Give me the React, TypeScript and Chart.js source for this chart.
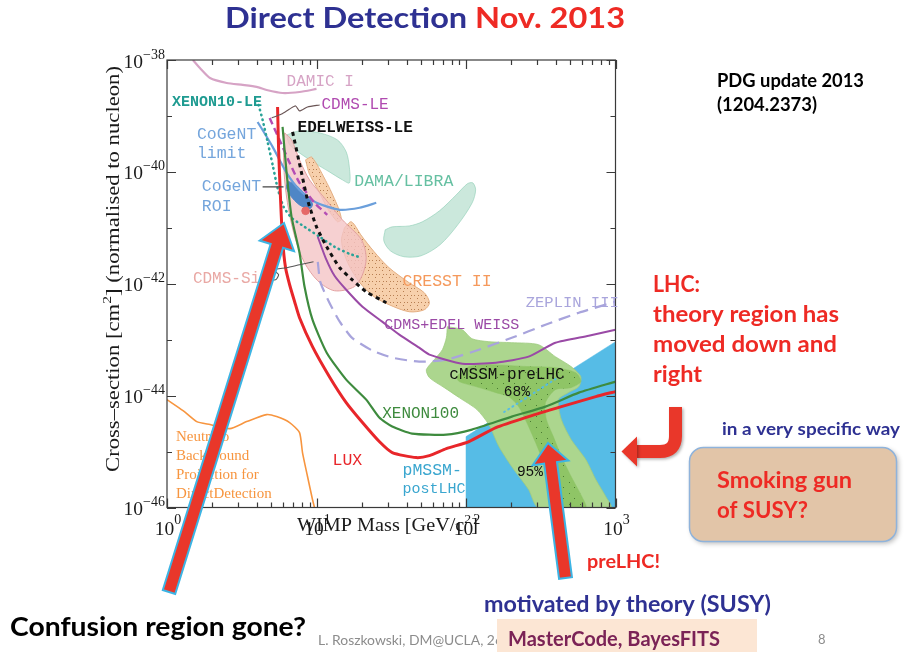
import React, { useEffect, useRef } from 'react';
import { Chart, registerables } from 'chart.js';

Chart.register(...registerables);

type Pt = [number, number]; // [WIMP mass (GeV), cross-section (cm^2)]

// ---------- axes ----------
const massMin = 1;
const massMax = 1000;
const sigmaMin = 1e-46;
const sigmaMax = 1e-38;
const massDecades = [1, 10, 100, 1000];
const massMinorSteps = [2, 3, 4, 5, 6, 7, 8, 9];
const sigmaExponents = [-46, -45, -44, -43, -42, -41, -40, -39, -38];
const sigmaLabelExponents = [-46, -44, -42, -40, -38];

// ---------- limit curves ----------
const damicI: Pt[] = [[1.49, 1e-38], [1.66, 7.2e-39], [1.94, 4.77e-39], [2.51, 3.88e-39], [3.21, 3.58e-39], [3.98, 3.3e-39], [4.64, 2.91e-39], [5.93, 2.57e-39], [7.7, 2.68e-39], [10, 3.04e-39]];
const xenon10LE: Pt[] = [[4.1, 1.57e-39], [4.36, 8.48e-40], [4.71, 3.43e-40], [5.09, 1.33e-40], [5.49, 5.18e-41], [6.02, 2.37e-41], [6.81, 1.51e-41], [7.94, 1.13e-41], [10.5, 6.9e-42], [13.2, 4.58e-42], [16.6, 3.43e-42], [20, 2.91e-42]];
const cdmsLE: Pt[] = [[4.86, 9.21e-40], [5.66, 3.73e-40], [6.61, 1.45e-40], [7.7, 6.36e-41], [9.69, 2.8e-41], [11.8, 1.71e-41]];
const edelweissLE: Pt[] = [[6.92, 5.18e-40], [7.94, 9.6e-41], [8.71, 3.16e-41], [10, 1.04e-41], [11.7, 4.58e-42], [14.3, 1.93e-42], [17.3, 1.18e-42], [21.5, 7.2e-43], [29.3, 4.58e-43]];
const cogentLimit: Pt[] = [[4.04, 7.81e-40], [5.09, 2.8e-40], [6.31, 9.6e-41], [7.7, 4.77e-41], [10, 2.8e-41], [14.3, 2.1e-41], [19.4, 2.28e-41], [25.1, 2.8e-41]];
const lux: Pt[] = [[5.49, 1.45e-39], [5.58, 2.47e-40], [5.75, 3.16e-41], [5.93, 6.11e-42], [6.21, 1.93e-42], [6.61, 9.6e-43], [7.14, 4.77e-43], [7.7, 2.47e-43], [9.4, 7.5e-44], [12.2, 2.18e-44], [15.8, 7.5e-45], [20.3, 3.3e-45], [26.3, 1.51e-45], [32.1, 9.6e-46], [46.4, 7.81e-46], [56.9, 8.48e-46], [73.9, 1.13e-45], [104.7, 1.51e-45], [158.5, 2.68e-45], [262, 4.22e-45], [434.5, 6.36e-45], [738, 9.6e-45], [1000, 1.18e-44]];
const xenon100: Pt[] = [[5.93, 6.36e-40], [6.31, 9.6e-41], [6.81, 1.57e-41], [7.7, 3.58e-42], [8.32, 8.84e-43], [9.4, 2.28e-43], [11.7, 5.86e-44], [15.8, 1.93e-44], [21.5, 8.48e-45], [26.3, 4.05e-45], [32.1, 2.8e-45], [43.6, 2.1e-45], [73.9, 2.01e-45], [109.6, 2.47e-45], [202.4, 4.22e-45], [339.8, 6.36e-45], [568.8, 1.13e-44], [1000, 1.78e-44]];
const cdmsEdelweiss: Pt[] = [[10.2, 6.9e-42], [11.5, 2.91e-42], [13.2, 1.39e-42], [15.8, 7.81e-43], [20.3, 3.88e-43], [27.5, 2.1e-43], [35.8, 1.23e-43], [48.6, 7.2e-44], [56.9, 5.4e-44], [94.4, 3.73e-44], [158.5, 3.88e-44], [262, 4.97e-44], [396, 8.84e-44], [662, 1.18e-43], [1000, 1.51e-43]];
const zeplinIII: Pt[] = [[10.2, 2.47e-42], [10.6, 1.08e-42], [12.2, 4.58e-43], [14.3, 2.1e-43], [17.3, 1.08e-43], [23.7, 6.36e-44], [32.1, 4.77e-44], [48.6, 4.05e-44], [73.9, 4.39e-44], [122, 6.63e-44], [202.4, 1.08e-43], [339.8, 1.85e-43], [568.8, 3.04e-43], [1000, 4.77e-43]];
const neutrinoBackground: Pt[] = [[1, 8.48e-45], [1.28, 5.4e-45], [1.58, 3.43e-45], [1.94, 3.04e-45], [2.63, 2.57e-45], [3.41, 3.43e-45], [4.64, 4.58e-45], [5.41, 4.22e-45], [6.61, 3.3e-45], [7.7, 2.18e-45], [8.06, 9.6e-46], [8.71, 3.58e-46], [9.4, 1.39e-46], [9.69, 1e-46]];

// ---------- signal / allowed regions ----------
const cogentROI: Pt[] = [[6.41, 6.9e-41], [7.25, 5.86e-41], [8.32, 4.05e-41], [9.4, 2.68e-41], [8.98, 2.18e-41], [7.7, 2.57e-41], [6.71, 3.73e-41], [6.31, 5.18e-41]];
const cdmsSiBestFit: Pt[] = [[8.45, 2.01e-41]];
const cdmsSiRegion: Pt[] = [[6.12, 4.97e-40], [6.81, 3.73e-40], [7.7, 1.64e-40], [8.98, 7.2e-41], [11.3, 3.43e-41], [14.9, 1.39e-41], [20, 6.11e-42], [21.5, 2.91e-42], [20.3, 1.45e-42], [17.9, 8.84e-43], [13.2, 7.5e-43], [10.2, 1.13e-42], [8.32, 2.37e-42], [7.25, 6.11e-42], [6.51, 2.1e-41], [6.12, 7.2e-41], [6.02, 2.47e-40]];
const damaRegionA: Pt[] = [[6.31, 4.58e-40], [7.7, 5.4e-40], [10.5, 4.97e-40], [13.8, 3.73e-40], [15.8, 2.28e-40], [16.6, 1.18e-40], [16.6, 6.36e-41], [14.9, 7.2e-41], [12.2, 1e-40], [9.69, 1.45e-40], [7.7, 2.18e-40], [6.61, 3.04e-40]];
const damaRegionB: Pt[] = [[28.8, 9.2e-42], [32.1, 1.04e-41], [41.7, 1.08e-41], [51, 1.28e-41], [66.4, 2.01e-41], [86.1, 3.88e-41], [102, 6.11e-41], [111, 6.36e-41], [116, 4.77e-41], [110, 2.8e-41], [88, 1.13e-41], [67, 4.97e-42], [50, 3.16e-42], [38.5, 3.04e-42], [31.2, 3.88e-42], [28.2, 5.86e-42]];
const cresstRegionA: Pt[] = [[8.45, 1.64e-40], [9.26, 1.85e-40], [10.2, 1.28e-40], [12.2, 5.18e-41], [14.1, 2.18e-41], [14.7, 1.39e-41], [13.8, 1.28e-41], [12.1, 2.01e-41], [10.3, 4.58e-41], [8.9, 9.6e-41]];
const cresstRegionB: Pt[] = [[15.4, 1e-41], [17.1, 1.28e-41], [20, 7.2e-42], [24.3, 3.73e-42], [30.6, 1.93e-42], [41.7, 1.04e-42], [52.6, 6.9e-43], [56.9, 4.58e-43], [52.6, 3.43e-43], [41.7, 3.16e-43], [30.6, 4.22e-43], [24.3, 5.86e-43], [20, 9.6e-43], [17.1, 1.78e-42], [15.4, 3.3e-42], [14.7, 6.11e-42]];
const pmssmPostLHC: Pt[] = [[100, 1.85e-45], [1000, 9.21e-44], [1000, 1e-46], [100, 1e-46]];
const pmssmEdgeUnderCmssm: Pt[] = [[180, 5.1e-45], [400, 2.0e-44]];
const cmssm95: Pt[] = [[75, 1.71e-43], [94.4, 1.51e-43], [109.6, 1.04e-43], [142.2, 9.21e-44], [202.4, 8.84e-44], [305.4, 8.14e-44], [396, 4.97e-44], [505, 3.3e-44], [586, 2.18e-44], [569, 1.45e-44], [483, 1.13e-44], [415, 8.48e-45], [434.5, 3.73e-45], [505, 1.64e-45], [632.8, 7.2e-46], [738, 3.16e-46], [861, 1.57e-46], [930, 1e-46], [305, 1e-46], [262, 2.1e-46], [202, 5.4e-46], [166, 1.23e-45], [142, 3.04e-45], [118.4, 5.62e-45], [90.1, 9.21e-45], [71.6, 1.39e-44], [56.9, 2.1e-44], [54.3, 2.91e-44], [61.4, 4.39e-44], [69.5, 6.63e-44], [73.9, 1.08e-43]];
const cmssm68: Pt[] = [[86.1, 2.18e-44], [104.7, 3.3e-44], [142.2, 3.58e-44], [262, 3.3e-44], [396, 3.16e-44], [543, 2.57e-44], [586, 1.78e-44], [505, 1.39e-44], [396, 1.28e-44], [340, 7.5e-45], [345, 3.73e-45], [384, 1.85e-45], [434.5, 8.14e-46], [505, 3.58e-46], [595, 1.57e-46], [633, 1e-46], [434.5, 1e-46], [396, 2.1e-46], [340, 5.4e-46], [292, 1.45e-45], [255, 3.3e-45], [225, 6.36e-45], [193, 9.6e-45], [158.5, 1.13e-44], [116.6, 1.45e-44], [90.1, 1.78e-44]];

// ---------- label leader lines ----------
const cdmsLELeader: Pt[] = [[10.5, 1.57e-39], [8.71, 1.45e-39], [7.7, 1.23e-39], [7.25, 1.51e-39], [6.61, 1.33e-39], [5.84, 1.08e-39], [5.01, 9.21e-40]];
const cogentROILeader: Pt[] = [[4.36, 5.4e-41], [6.02, 5.4e-41]];
const cdmsSiLeader: Pt[] = [[4.3, 1.18e-42], [5.33, 1.18e-42], [5.58, 1.45e-42], [5.17, 1.78e-42], [6.31, 1.93e-42], [7.7, 2.18e-42], [9.55, 2.47e-42]];

// ---------- in-plot labels (text, mass, cross-section) ----------
const plotLabelTexts = ['DAMIC I', 'XENON10-LE', 'CDMS-LE', 'EDELWEISS-LE', 'CoGeNT', 'limit', 'CoGeNT', 'ROI', 'DAMA/LIBRA', 'CRESST II', 'CDMS-Si', 'ZEPLIN III', 'CDMS+EDEL WEISS', 'cMSSM-preLHC', '68%', 'XENON100', 'LUX', 'pMSSM-', 'postLHC', '95%'];
const plotLabelMass = [6.31, 1.08, 10.8, 7.47, 1.585, 1.585, 1.71, 1.71, 17.9, 37.6, 1.49, 251, 28.4, 77.4, 179, 27.5, 12.8, 37.6, 37.6, 219];
const plotLabelSigma = [4.05e-39, 1.78e-39, 1.57e-39, 6.11e-40, 4.58e-40, 2.1e-40, 5.4e-41, 2.37e-41, 6.63e-41, 1.08e-42, 1.23e-42, 4.58e-43, 1.85e-43, 2.37e-44, 1.13e-44, 4.77e-45, 6.9e-46, 4.58e-46, 2.18e-46, 4.22e-46];
const neutrinoLabelLines = ['Neutrino', 'Background', 'Projection for', 'DirectDetection'];
const neutrinoLabelMass = 1.148;
const neutrinoLabelSigma = [1.78e-45, 8.14e-46, 3.73e-46, 1.71e-46];

// styles for labels (parallel to plotLabelTexts)
const labelStyle: { c: string; s: number; b?: boolean }[] = [
  { c: '#d6a3c5', s: 16 }, { c: '#1f9b91', s: 15, b: true }, { c: '#b04ab0', s: 16 }, { c: '#111111', s: 16, b: true },
  { c: '#74a5dc', s: 16.5 }, { c: '#74a5dc', s: 16.5 }, { c: '#74a5dc', s: 16.5 }, { c: '#74a5dc', s: 16.5 },
  { c: '#66c0a2', s: 16.5 }, { c: '#f5995c', s: 16.5 }, { c: '#e9a8a4', s: 16 }, { c: '#a9a5dc', s: 15.5 },
  { c: '#9b4aa6', s: 15 }, { c: '#111111', s: 16 }, { c: '#111111', s: 14.5 }, { c: '#3e8b3e', s: 16 },
  { c: '#e8262a', s: 16.5 }, { c: '#3aa6cf', s: 16.5 }, { c: '#3aa6cf', s: 15 }, { c: '#111111', s: 14.5 },
];

type Run = { t: string; sup?: boolean; color?: string };

function drawRuns(
  ctx: CanvasRenderingContext2D,
  runs: Run[],
  x: number,
  y: number,
  font: (sup: boolean) => string,
  color: string,
  opt: { align?: 'left' | 'center' | 'right'; width?: number; rise?: number } = {}
) {
  ctx.save();
  ctx.textBaseline = 'alphabetic';
  ctx.textAlign = 'left';
  const widths = runs.map((r) => {
    ctx.font = font(!!r.sup);
    return ctx.measureText(r.t).width;
  });
  const total = widths.reduce((s, w) => s + w, 0);
  const sx = opt.width ? opt.width / total : 1;
  const tw = total * sx;
  let x0 = x;
  if (opt.align === 'center') x0 = x - tw / 2;
  else if (opt.align === 'right') x0 = x - tw;
  ctx.translate(x0, y);
  ctx.scale(sx, 1);
  let cx = 0;
  runs.forEach((r, i) => {
    ctx.font = font(!!r.sup);
    ctx.fillStyle = r.color || color;
    ctx.fillText(r.t, cx, r.sup ? -(opt.rise ?? 10) : 0);
    cx += widths[i];
  });
  ctx.restore();
}

function blockArrow(ctx: CanvasRenderingContext2D, x0: number, y0: number, x1: number, y1: number, half: number, headLen: number, headHalf: number) {
  const dx = x1 - x0, dy = y1 - y0, L = Math.hypot(dx, dy);
  const ux = dx / L, uy = dy / L, nx = -uy, ny = ux;
  const bx = x1 - ux * headLen, by = y1 - uy * headLen;
  ctx.beginPath();
  ctx.moveTo(x0 + nx * half, y0 + ny * half);
  ctx.lineTo(bx + nx * half, by + ny * half);
  ctx.lineTo(bx + nx * headHalf, by + ny * headHalf);
  ctx.lineTo(x1, y1);
  ctx.lineTo(bx - nx * headHalf, by - ny * headHalf);
  ctx.lineTo(bx - nx * half, by - ny * half);
  ctx.lineTo(x0 - nx * half, y0 - ny * half);
  ctx.closePath();
  ctx.fillStyle = '#e9372a';
  ctx.fill();
  ctx.lineWidth = 2;
  ctx.strokeStyle = '#3cb4e4';
  ctx.lineJoin = 'miter';
  ctx.stroke();
}

const SLIDE = '"Lato", "Open Sans", sans-serif';
const SERIF = '"Liberation Serif", "DejaVu Serif", serif';
const MONO = '"Liberation Mono", "DejaVu Sans Mono", monospace';

const overlayPlugin = {
  id: 'overlay',
  afterDatasetsDraw(chart: any) {
    const ctx: CanvasRenderingContext2D = chart.ctx;
    const xs = chart.scales.x;
    const ys = chart.scales.y;
    const a = chart.chartArea;
    ctx.save();
    // frame
    ctx.strokeStyle = '#3a3a3a';
    ctx.lineWidth = 1.2;
    ctx.strokeRect(a.left, a.top, a.right - a.left, a.bottom - a.top);
    ctx.beginPath();
    for (const d of massDecades) {
      const ticks: [number, number][] = [[d, 9]];
      if (d < massMax) for (const m of massMinorSteps) ticks.push([d * m, 5]);
      for (const [v, len] of ticks) {
        const px = Math.round(xs.getPixelForValue(v)) + 0.5;
        ctx.moveTo(px, a.bottom); ctx.lineTo(px, a.bottom - len);
        ctx.moveTo(px, a.top); ctx.lineTo(px, a.top + len);
      }
    }
    for (const e of sigmaExponents) {
      const py = Math.round(ys.getPixelForValue(Math.pow(10, e))) + 0.5;
      const len = e % 2 === 0 ? 9 : 5;
      ctx.moveTo(a.left, py); ctx.lineTo(a.left + len, py);
      ctx.moveTo(a.right, py); ctx.lineTo(a.right - len, py);
    }
    ctx.stroke();

    const tickFont = (sup: boolean) => `${sup ? 14 : 19.5}px ${SERIF}`;
    for (const d of massDecades) {
      const ex = Math.round(Math.log10(d));
      drawRuns(ctx, [{ t: '10' }, { t: String(ex), sup: true }], xs.getPixelForValue(d) + 1, 535, tickFont, '#1a1a1a', { align: 'center', rise: 11 });
    }
    for (const e of sigmaLabelExponents) {
      const py = ys.getPixelForValue(Math.pow(10, e));
      drawRuns(ctx, [{ t: '10' }, { t: '\u2212' + String(-e), sup: true }], a.left - 2, py + 7.5, tickFont, '#1a1a1a', { align: 'right', rise: 9 });
    }
    // axis titles
    const titleFont = (sup: boolean) => `${sup ? 13 : 19}px ${SERIF}`;
    drawRuns(ctx, [{ t: 'WIMP Mass [GeV/c' }, { t: '2', sup: true }, { t: ']' }], 297, 531, titleFont, '#1a1a1a', { width: 181, rise: 8 });
    ctx.save();
    ctx.translate(119, 269);
    ctx.rotate(-Math.PI / 2);
    drawRuns(ctx, [{ t: 'Cross\u2013section [cm' }, { t: '2', sup: true }, { t: '] (normalised to nucleon)' }], 0, 0, titleFont, '#1a1a1a', { align: 'center', width: 406, rise: 8 });
    ctx.restore();

    // in-plot labels
    ctx.textBaseline = 'middle';
    ctx.textAlign = 'left';
    plotLabelTexts.forEach((t, i) => {
      const st = labelStyle[i];
      ctx.font = `${st.b ? 'bold ' : ''}${st.s}px ${MONO}`;
      ctx.fillStyle = st.c;
      ctx.fillText(t, xs.getPixelForValue(plotLabelMass[i]), ys.getPixelForValue(plotLabelSigma[i]));
    });
    ctx.font = `15px ${SERIF}`;
    ctx.fillStyle = '#f7953f';
    neutrinoLabelLines.forEach((t, i) => {
      ctx.fillText(t, xs.getPixelForValue(neutrinoLabelMass), ys.getPixelForValue(neutrinoLabelSigma[i]));
    });
    ctx.restore();
  },
  afterDraw(chart: any) {
    const ctx: CanvasRenderingContext2D = chart.ctx;
    ctx.save();
    const bold = (size: number) => () => `bold ${size}px ${SLIDE}`;
    const NAVY = '#2e3192';
    const RED = '#ee2a24';

    // title
    drawRuns(ctx, [{ t: 'Direct Detection ', color: NAVY }, { t: 'Nov. 2013', color: RED }], 225, 28, bold(29), NAVY, { width: 400 });
    // right-side notes
    drawRuns(ctx, [{ t: 'PDG update 2013' }], 717, 87, bold(18.5), '#000', { width: 147 });
    drawRuns(ctx, [{ t: '(1204.2373)' }], 717, 110.5, bold(18.5), '#000', { width: 100 });
    drawRuns(ctx, [{ t: 'LHC:' }], 653, 292, bold(22), RED, { width: 47 });
    drawRuns(ctx, [{ t: 'theory region has' }], 653, 322, bold(22), RED, { width: 186 });
    drawRuns(ctx, [{ t: 'moved down and' }], 653, 352, bold(22), RED, { width: 184 });
    drawRuns(ctx, [{ t: 'right' }], 653, 382, bold(22), RED, { width: 49 });
    drawRuns(ctx, [{ t: 'in a very specific way' }], 722, 435, bold(17), NAVY, { width: 178 });

    // rounded box
    ctx.save();
    ctx.shadowColor = 'rgba(0,0,0,0.28)';
    ctx.shadowBlur = 5;
    ctx.shadowOffsetX = 2;
    ctx.shadowOffsetY = 2;
    ctx.beginPath();
    (ctx as any).roundRect(689.5, 447.5, 207, 94, 14);
    ctx.fillStyle = '#e2c5a8';
    ctx.fill();
    ctx.restore();
    ctx.beginPath();
    (ctx as any).roundRect(689.5, 447.5, 207, 94, 14);
    ctx.lineWidth = 1.5;
    ctx.strokeStyle = '#8fb3db';
    ctx.stroke();
    drawRuns(ctx, [{ t: 'Smoking gun' }], 717, 488, bold(22), RED, { width: 135 });
    drawRuns(ctx, [{ t: 'of SUSY?' }], 717, 518, bold(22), RED, { width: 91 });

    // J-shaped arrow
    ctx.save();
    ctx.shadowColor = 'rgba(0,0,0,0.3)';
    ctx.shadowBlur = 3;
    ctx.shadowOffsetX = 1.5;
    ctx.shadowOffsetY = 1.5;
    ctx.strokeStyle = '#e9372a';
    ctx.lineWidth = 13;
    ctx.lineCap = 'butt';
    ctx.beginPath();
    ctx.moveTo(675.5, 407);
    ctx.lineTo(675.5, 436);
    ctx.quadraticCurveTo(675.5, 451.5, 660, 451.5);
    ctx.lineTo(636, 451.5);
    ctx.stroke();
    ctx.beginPath();
    ctx.moveTo(637, 436.5);
    ctx.lineTo(621.5, 451.5);
    ctx.lineTo(637, 466.5);
    ctx.closePath();
    ctx.fillStyle = '#e9372a';
    ctx.fill();
    ctx.restore();

    // big arrows
    blockArrow(ctx, 169, 592, 284, 223, 6.5, 24, 18);
    blockArrow(ctx, 565.5, 578, 548, 443, 6.5, 20, 18);

    drawRuns(ctx, [{ t: 'preLHC!' }], 587, 568, bold(19), RED, { width: 73 });
    drawRuns(ctx, [{ t: 'motivated by theory (SUSY)' }], 484, 612, bold(23), NAVY, { width: 287 });
    drawRuns(ctx, [{ t: 'Confusion region gone?' }], 10, 636, bold(27), '#000', { width: 296 });

    // footer
    ctx.font = `13px ${SLIDE}`;
    const part = ctx.measureText('L. Roszkowski, DM@UCLA, 26').width;
    const full = ctx.measureText('L. Roszkowski, DM@UCLA, 26 Nov. 2013').width;
    drawRuns(ctx, [{ t: 'L. Roszkowski, DM@UCLA, 26 Nov. 2013' }], 318, 645, () => `13px ${SLIDE}`, '#8c8c8c', { width: (full * 185) / part });
    drawRuns(ctx, [{ t: '8' }], 818, 644, () => `13px ${SLIDE}`, '#8c8c8c');

    ctx.fillStyle = '#fce6d4';
    ctx.fillRect(497, 619, 260, 33);
    drawRuns(ctx, [{ t: 'MasterCode, BayesFITS' }], 508, 646, bold(21), '#7b2356', { width: 212 });
    ctx.restore();
  },
};

function stipple(bg: string, dot: string, size: number, dots: [number, number][]) {
  const c = document.createElement('canvas');
  c.width = size;
  c.height = size;
  const g = c.getContext('2d')!;
  g.fillStyle = bg;
  g.fillRect(0, 0, size, size);
  g.fillStyle = dot;
  for (const [x, y] of dots) g.fillRect(x, y, 1, 1);
  return g.createPattern(c, 'repeat')!;
}

const xy = (pts: Pt[]) => pts.map(([x, y]) => ({ x, y }));

function curve(pts: Pt[], color: string, width: number, dash: number[] = [], cap: CanvasLineCap = 'butt') {
  return {
    data: xy(pts),
    showLine: true,
    borderColor: color,
    borderWidth: width,
    borderDash: dash,
    borderCapStyle: cap,
    pointRadius: 0,
    fill: false,
    tension: 0.2,
  };
}

function region(pts: Pt[], fillColor: any, edge: string, edgeWidth: number, tension = 0.3) {
  return {
    data: xy([...pts, pts[0]]),
    showLine: true,
    borderColor: edge,
    borderWidth: edgeWidth,
    backgroundColor: fillColor,
    fill: 'shape',
    pointRadius: 0,
    tension,
  };
}

export default function App() {
  const ref = useRef<HTMLCanvasElement>(null);
  useEffect(() => {
    const canvas = ref.current!;
    const cresstFill = stipple('#f7d0ac', '#b77e52', 7, [[1, 1], [4, 4], [5, 1]]);
    const cmssm68Fill = stipple('#8fc566', '#4b7c32', 11, [[2, 3], [8, 9]]);
    const layers: any[] = [
      region(damaRegionA, 'rgba(160,214,192,0.55)', 'rgba(140,205,180,0.6)', 1),
      region(damaRegionB, 'rgba(160,214,192,0.55)', 'rgba(140,205,180,0.6)', 1),
      region(cresstRegionA, cresstFill, '#e4ae82', 1, 0.15),
      region(cresstRegionB, cresstFill, '#e4ae82', 1),
      region(cdmsSiRegion, 'rgba(244,196,198,0.8)', '#e3a2a2', 1),
      region(cogentROI, '#4f86c6', '#4f86c6', 1),
      region(pmssmPostLHC, '#56bce6', '#56bce6', 0.5, 0),
      region(cmssm95, '#acd68e', '#9fcc80', 0.8, 0.25),
      region(cmssm68, cmssm68Fill, '#8fc566', 0.5, 0.25),
      curve(pmssmEdgeUnderCmssm, '#56bce6', 2, [1, 4], 'round'),
      curve(neutrinoBackground, '#f7953f', 1.6),
      curve(damicI, '#d6a3c5', 2.2),
      curve(cogentLimit, '#6b9fdb', 2.2),
      curve(xenon10LE, '#2aa398', 2.6, [0.5, 4.5], 'round'),
      curve(cdmsLE, '#b44db4', 2.4, [7, 4]),
      curve(edelweissLE, '#111111', 3, [4, 4]),
      curve(zeplinIII, '#a8a4dc', 2.2, [12, 7]),
      curve(cdmsEdelweiss, '#9a4aa6', 2),
      curve(xenon100, '#3e8b3e', 2.2),
      curve(lux, '#e8262a', 3),
      {
        data: xy(cdmsSiBestFit),
        showLine: false,
        pointRadius: 3.8,
        pointBackgroundColor: '#e56868',
        pointBorderColor: '#e56868',
      },
      curve(cdmsLELeader, '#6a5555', 1.1),
      curve(cogentROILeader, '#444444', 1.1),
      curve(cdmsSiLeader, '#555555', 1.1),
    ];
    const datasets = layers.map((d, i) => ({ ...d, order: layers.length - i }));
    const chart = new Chart(canvas, {
      type: 'scatter',
      data: { datasets },
      options: {
        animation: false,
        responsive: false,
        events: [],
        layout: { padding: { left: 167, top: 60, right: 904 - 615.5, bottom: 652 - 507.5 } },
        scales: {
          x: { type: 'logarithmic', min: massMin, max: massMax, display: false },
          y: { type: 'logarithmic', min: sigmaMin, max: sigmaMax, display: false },
        },
        plugins: { legend: { display: false }, tooltip: { enabled: false } },
      } as any,
      plugins: [overlayPlugin],
    });
    return () => chart.destroy();
  }, []);
  return (
    <div style={{ position: 'fixed', left: 0, top: 0, width: 904, height: 652, background: '#ffffff' }}>
      <canvas ref={ref} width={904} height={652} style={{ display: 'block' }} />
    </div>
  );
}
